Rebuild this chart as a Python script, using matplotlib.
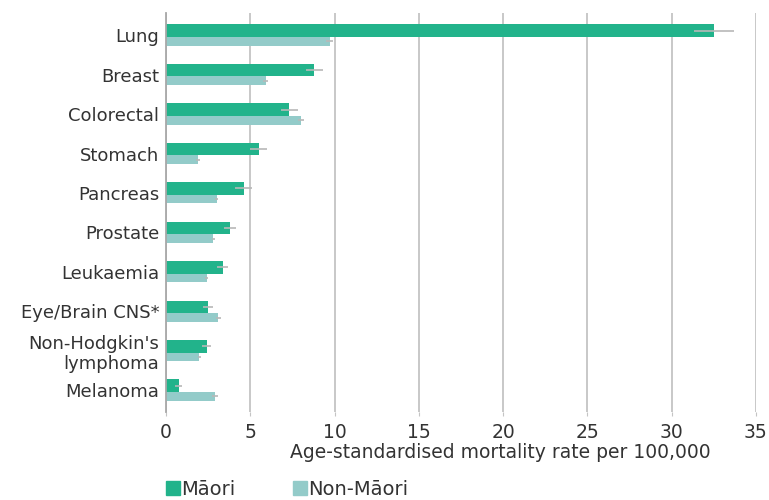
import matplotlib
matplotlib.use("Agg")
import matplotlib.pyplot as plt
from matplotlib.patches import Patch
import numpy as np

# Cancer mortality, age-standardised rate per 100,000
cancers = ['Lung', 'Breast', 'Colorectal', 'Stomach', 'Pancreas', 'Prostate',
           'Leukaemia', 'Eye/Brain CNS*', "Non-Hodgkin's\nlymphoma", 'Melanoma']
maori = [32.5, 8.8, 7.3, 5.5, 4.6, 3.8, 3.35, 2.5, 2.4, 0.75]
maori_err = [1.2, 0.5, 0.5, 0.5, 0.5, 0.35, 0.35, 0.3, 0.25, 0.2]
non_maori = [9.7, 5.9, 8.0, 1.9, 3.0, 2.8, 2.4, 3.1, 1.97, 2.9]
non_maori_err = [0.2, 0.15, 0.2, 0.1, 0.1, 0.1, 0.1, 0.15, 0.1, 0.15]
xticks = [0, 5, 10, 15, 20, 25, 30, 35]

MAORI_COL = '#22b38b'
NON_COL = '#93cbc9'
GRID_COL = '#c4c4c4'
TEXT_COL = '#333333'

plt.rcParams['font.family'] = ['DejaVu Sans']

fig = plt.figure(figsize=(7.69, 5.0), dpi=100)
ax = fig.add_axes([0.216, 0.176, 0.767, 0.797])

y = np.arange(len(cancers))
h_m = 0.32
h_n = 0.22
ax.barh(y - 0.275 + h_m / 2, maori, height=h_m, color=MAORI_COL, zorder=2)
ax.barh(y - 0.275 + h_m + h_n / 2, non_maori, height=h_n, color=NON_COL, zorder=2)
ax.errorbar(maori, y - 0.275 + h_m / 2, xerr=maori_err, fmt='none',
            ecolor='#b8b8b8', elinewidth=1.2, capsize=0, zorder=3)
ax.errorbar(non_maori, y - 0.275 + h_m + h_n / 2, xerr=non_maori_err, fmt='none',
            ecolor='#b8b8b8', elinewidth=1.2, capsize=0, zorder=3)

ax.set_xlim(0, 35)
ax.set_ylim(9.55, -0.55)
ax.set_xticks(xticks)
ax.set_xticklabels([str(t) for t in xticks], fontsize=13.5, color=TEXT_COL)
ax.set_yticks(y)
ax.set_yticklabels(cancers, fontsize=13, color=TEXT_COL, linespacing=1.15)
ax.tick_params(axis='y', length=0, pad=5)
ax.tick_params(axis='x', length=3, color=GRID_COL, pad=5)

ax.grid(axis='x', color=GRID_COL, linewidth=1.3, zorder=0)
ax.set_axisbelow(True)
for s in ['top', 'right', 'bottom']:
    ax.spines[s].set_visible(False)
ax.spines['left'].set_color('#a8a8a8')
ax.spines['left'].set_linewidth(1.3)

ax.set_xlabel('Age-standardised mortality rate per 100,000', fontsize=13.5,
              color=TEXT_COL)
ax.xaxis.set_label_coords(0.566, -0.078)

handles = [Patch(color=MAORI_COL, label='Māori'),
           Patch(color=NON_COL, label='Non-Māori')]
fig.legend(handles=handles, loc='lower left', bbox_to_anchor=(0.216, 0.002),
           ncol=2, frameon=False, fontsize=14, handlelength=0.7,
           handleheight=0.7, handletextpad=0.05, columnspacing=3.0,
           borderpad=0, borderaxespad=0, labelcolor=TEXT_COL)

plt.savefig('out.png', dpi=100)
